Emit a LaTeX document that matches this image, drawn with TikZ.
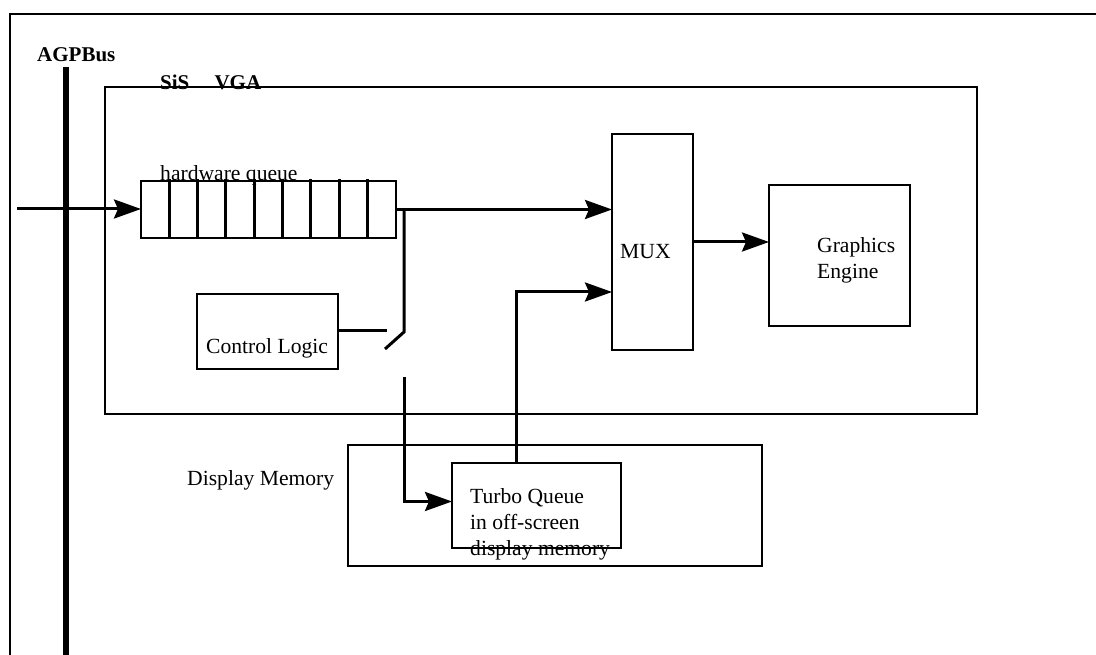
\documentclass[tikz,border=0pt]{standalone}
\usepackage{fontspec}
\setmainfont{Liberation Serif}
\usetikzlibrary{%
  arrows.meta,% Stealth tips
  positioning%
}

\begin{document}
\begin{tikzpicture}[
    x=1pt,y=-1pt,
    >={Stealth[length=27pt,width=19pt,inset=4pt]},
    line join=miter,
    box/.style={rectangle,draw,line width=2.2pt,inner sep=0pt,outer sep=0pt},
    wire/.style={line width=3pt},
    cellline/.style={line width=3pt,shorten <=-2pt},
    bus/.style={line width=6.5pt},
    txt/.style={inner sep=0pt,anchor=base west,align=left,
        font=\fontsize{21.6}{26}\selectfont},
    boldtxt/.style={txt,font=\fontsize{21}{26}\selectfont\bfseries}
  ]

    \useasboundingbox (0,0) rectangle (1096,655);
    \clip (0,0) rectangle (1096,655);

    % page frame and the bus
    \draw[line width=2.5pt] (10,14) rectangle (1110,670);
    \node[boldtxt] (busname) at (37,62) {AGPBus};
    \coordinate (bustop) at (66,67);
    \coordinate (busend) at (66,662);
    \draw[bus] (bustop) -- (busend);

    % the chip
    \node[box,minimum width=872pt,minimum height=327pt] (vga) at (541,250.5) {};
    \node[boldtxt] (vganame) at (160,90) {SiS\hspace{1.2em}VGA};

    \node[box,minimum width=255pt,minimum height=57pt] (hwq) at (268.5,209.5) {};
    \foreach \i in {1,...,8}
        \draw[cellline] ([xshift=\i*28.33pt]hwq.north west)
            -- ([xshift=\i*28.33pt]hwq.south west);
    \node[txt] (hwqname) at (160,181) {hardware queue};

    \node[box,minimum width=141pt,minimum height=75pt] (ctrl) at (267.5,331.5) {};
    \node[txt] (ctrlname) at (206,353) {Control Logic};

    \node[box,minimum width=81pt,minimum height=216pt] (mux) at (652.5,242) {};
    \node[txt] (muxname) at (620,259) {MUX};

    \node[box,minimum width=141pt,minimum height=141pt] (eng) at (839.5,255.5) {};
    \node[txt] (engname) at (817,279) {Graphics\\Engine};

    % memory side
    \node[box,minimum width=414pt,minimum height=121pt] (dmem) at (555,505.5) {};
    \node[txt] (dmemname) at (187,485) {Display Memory};

    \node[box,minimum width=169pt,minimum height=85pt] (tq) at (536.5,505.5) {};
    \node[txt] (tqname) at (470,555) {Turbo Queue\\in off-screen\\display memory};

    % switch
    \coordinate (agpin)   at (17,209);
    \coordinate (tap)     at (404,209);
    \coordinate (pivot)   at (404,332);
    \coordinate (blade)   at (385,349);
    \coordinate (ctrlend) at (387,331);
    \coordinate (contact) at (404,377);

    \draw[wire,->] (agpin) -- (agpin -| hwq.west);
    \draw[wire,->] (hwq.east) -- (hwq.east -| mux.west);
    \draw[wire] (tap) -- (pivot) -- (blade);
    \draw[wire] (ctrl.east |- ctrlend) -- (ctrlend);
    \draw[wire,->] (contact) |- ([yshift=4pt]tq.west);
    \draw[wire,->] ([xshift=-20.5pt]tq.north) |- ([yshift=-50pt]mux.west);
    \draw[wire,->] (mux.east) -- (mux.east -| eng.west);
\end{tikzpicture}
\end{document}
